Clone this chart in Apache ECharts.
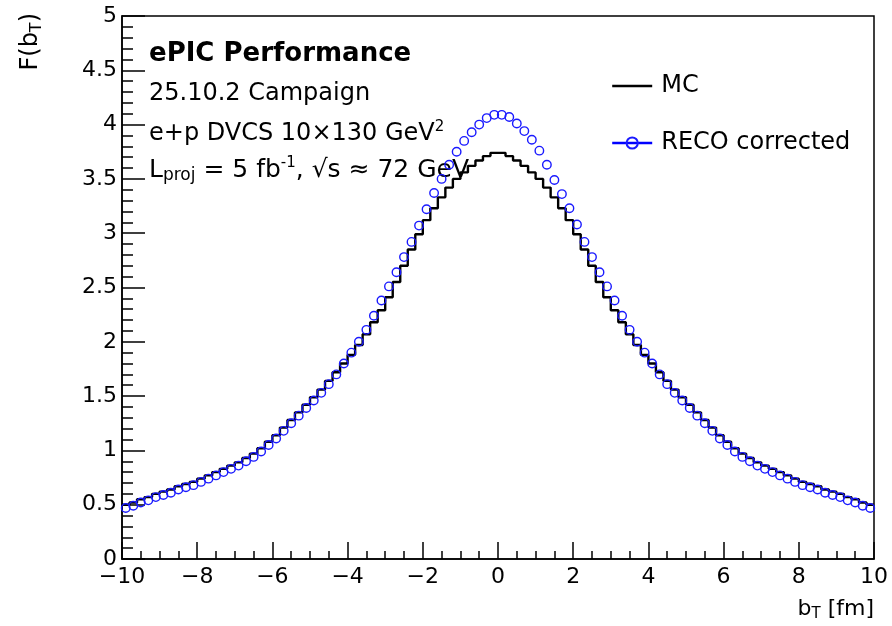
<!DOCTYPE html>
<html><head><meta charset="utf-8">
<script src="https://cdn.jsdelivr.net/npm/echarts@6/dist/echarts.min.js"></script>
<style>html,body{margin:0;padding:0;background:#fff}#c{width:892px;height:626px}</style>
</head><body><div id="c"></div>
<script>
// bin centres of b_T [fm]
const bT = [
 -9.9,-9.7,-9.5,-9.3,-9.1,-8.9,-8.7,-8.5,-8.3,-8.1,
 -7.9,-7.7,-7.5,-7.3,-7.1,-6.9,-6.7,-6.5,-6.3,-6.1,
 -5.9,-5.7,-5.5,-5.3,-5.1,-4.9,-4.7,-4.5,-4.3,-4.1,
 -3.9,-3.7,-3.5,-3.3,-3.1,-2.9,-2.7,-2.5,-2.3,-2.1,
 -1.9,-1.7,-1.5,-1.3,-1.1,-0.9,-0.7,-0.5,-0.3,-0.1,
 0.1,0.3,0.5,0.7,0.9,1.1,1.3,1.5,1.7,1.9,
 2.1,2.3,2.5,2.7,2.9,3.1,3.3,3.5,3.7,3.9,
 4.1,4.3,4.5,4.7,4.9,5.1,5.3,5.5,5.7,5.9,
 6.1,6.3,6.5,6.7,6.9,7.1,7.3,7.5,7.7,7.9,
 8.1,8.3,8.5,8.7,8.9,9.1,9.3,9.5,9.7,9.9
];
// MC histogram
const mcValues = [
 0.50,0.52,0.55,0.57,0.60,0.62,0.64,0.67,0.69,0.71,
 0.74,0.77,0.80,0.83,0.86,0.89,0.93,0.97,1.02,1.08,
 1.14,1.21,1.28,1.35,1.42,1.49,1.56,1.64,1.72,1.80,
 1.88,1.97,2.07,2.18,2.29,2.41,2.55,2.70,2.85,2.99,
 3.12,3.23,3.33,3.42,3.50,3.56,3.62,3.67,3.71,3.74,
 3.74,3.71,3.67,3.62,3.56,3.50,3.42,3.33,3.23,3.12,
 2.99,2.85,2.70,2.55,2.41,2.29,2.18,2.07,1.97,1.88,
 1.80,1.72,1.64,1.56,1.49,1.42,1.35,1.28,1.21,1.14,
 1.08,1.02,0.97,0.93,0.89,0.86,0.83,0.80,0.77,0.74,
 0.71,0.69,0.67,0.64,0.62,0.60,0.57,0.55,0.52,0.50
];
// RECO corrected
const recoValues = [
 0.47,0.49,0.52,0.54,0.57,0.59,0.61,0.64,0.66,0.68,
 0.71,0.74,0.77,0.80,0.83,0.86,0.90,0.94,0.99,1.05,
 1.11,1.18,1.25,1.32,1.39,1.46,1.53,1.61,1.70,1.80,
 1.90,2.00,2.11,2.24,2.38,2.51,2.64,2.78,2.92,3.07,
 3.22,3.37,3.50,3.63,3.75,3.85,3.93,4.00,4.06,4.09,
 4.09,4.07,4.01,3.94,3.86,3.76,3.63,3.49,3.36,3.23,
 3.08,2.92,2.78,2.64,2.51,2.38,2.24,2.11,2.00,1.90,
 1.80,1.70,1.61,1.53,1.46,1.39,1.32,1.25,1.18,1.11,
 1.05,0.99,0.94,0.90,0.86,0.83,0.80,0.77,0.74,0.71,
 0.68,0.66,0.64,0.61,0.59,0.57,0.54,0.52,0.49,0.47
];
const seriesNames = ['MC', 'RECO corrected'];

const FONT = 'DejaVu Sans';
const half = (bT[1] - bT[0]) / 2;
const mcStep = bT.map((x, i) => [+(x - half).toFixed(4), mcValues[i]]);
mcStep.push([+(bT[bT.length - 1] + half).toFixed(4), mcValues[mcValues.length - 1]]);
const recoData = bT.map((x, i) => [x, recoValues[i]]);

const chart = echarts.init(document.getElementById('c'), null, {renderer: 'canvas'});
const tickStyle = {color: '#000', width: 1.5};
const option = {
  animation: false,
  backgroundColor: '#fff',
  grid: {left: 122, right: 18, top: 16, bottom: 67, show: true, borderColor: '#000', borderWidth: 1.5, backgroundColor: 'transparent'},
  xAxis: {
    type: 'value', min: -10, max: 10, interval: 2,
    axisLine: {onZero: false, lineStyle: tickStyle},
    axisTick: {inside: true, length: 17, lineStyle: tickStyle},
    minorTick: {show: true, splitNumber: 4, length: 8, lineStyle: tickStyle},
    splitLine: {show: false},
    axisLabel: {color: '#000', fontFamily: FONT, fontSize: 22, margin: 7,
      formatter: v => String(v).replace('-', '\u2212')}
  },
  yAxis: {
    type: 'value', min: 0, max: 5, interval: 0.5,
    axisLine: {show: true, onZero: false, lineStyle: tickStyle},
    axisTick: {show: true, inside: true, length: 23, lineStyle: tickStyle},
    minorTick: {show: true, splitNumber: 5, length: 11, lineStyle: tickStyle},
    splitLine: {show: false},
    axisLabel: {color: '#000', fontFamily: FONT, fontSize: 22, margin: 5}
  },
  legend: {
    orient: 'vertical', left: 611, top: 74, padding: 0, itemWidth: 40, itemHeight: 14, itemGap: 33,
    textStyle: {fontFamily: FONT, fontSize: 24, color: '#000', padding: [0, 0, 0, 4]},
    lineStyle: {opacity: 1, width: 2.4},
    data: [
      {name: seriesNames[0], icon: 'path://M0,0L40,0L40,2.4L0,2.4Z', itemStyle: {color: '#000'}},
      {name: seriesNames[1]}
    ]
  },
  series: [
    {name: seriesNames[0], type: 'line', step: 'end', data: mcStep, symbol: 'none',
     lineStyle: {color: '#000', width: 2.4}, itemStyle: {color: '#000'}, z: 2, silent: true},
    {name: seriesNames[1], type: 'line', data: recoData, symbol: 'circle', symbolSize: 8.5,
     showSymbol: true, showAllSymbol: true,
     lineStyle: {width: 0, opacity: 0, color: '#0000ff'},
     itemStyle: {color: 'rgba(0,0,0,0)', borderColor: '#1a1aff', borderWidth: 1.4}, z: 3, silent: true}
  ],
  graphic: [
    {type: 'text', x: 149, y: 54, style: {text: 'ePIC Performance', font: 'bold 26px "DejaVu Sans"', fill: '#000', textVerticalAlign: 'middle', verticalAlign: 'middle'}},
    {type: 'text', x: 149, y: 94, style: {text: '25.10.2 Campaign', font: '24px "DejaVu Sans"', fill: '#000', textVerticalAlign: 'middle', verticalAlign: 'middle'}},
    {type: 'text', x: 149, y: 134, style: {
      text: '{n|e+p DVCS 10\u00d7130 GeV}{sup|2}', fill: '#000', textVerticalAlign: 'middle', verticalAlign: 'middle',
      rich: {n: {fontFamily: FONT, fontSize: 24, lineHeight: 28, fill: '#000'},
             sup: {fontFamily: FONT, fontSize: 15, lineHeight: 15, verticalAlign: 'top', fill: '#000'}}}},
    {type: 'text', x: 149, y: 170, style: {
      text: '{n|L}{sub|proj}{n| = 5 fb}{sup|-1}{n|, \u221as \u2248 72 GeV}', fill: '#000', textVerticalAlign: 'middle', verticalAlign: 'middle',
      rich: {n: {fontFamily: FONT, fontSize: 25, lineHeight: 28, fill: '#000'},
             sub: {fontFamily: FONT, fontSize: 17, lineHeight: 16, verticalAlign: 'bottom', fill: '#000'},
             sup: {fontFamily: FONT, fontSize: 15, lineHeight: 15, verticalAlign: 'top', fill: '#000'}}}},
    {type: 'text', x: 31, y: 13, rotation: Math.PI / 2, style: {
      text: '{n|F(b}{sub|T}{n|)}', fill: '#000', textAlign: 'right', align: 'right', textVerticalAlign: 'middle', verticalAlign: 'middle',
      rich: {n: {fontFamily: FONT, fontSize: 24, lineHeight: 28, fill: '#000'},
             sub: {fontFamily: FONT, fontSize: 16, lineHeight: 16, verticalAlign: 'bottom', fill: '#000'}}}},
    {type: 'text', x: 874, y: 609, style: {
      text: '{n|b}{sub|T}{n| [fm]}', fill: '#000', textAlign: 'right', align: 'right', textVerticalAlign: 'middle', verticalAlign: 'middle',
      rich: {n: {fontFamily: FONT, fontSize: 22, lineHeight: 26, fill: '#000'},
             sub: {fontFamily: FONT, fontSize: 15, lineHeight: 15, verticalAlign: 'bottom', fill: '#000'}}}}
  ]
};
chart.setOption(option);
</script>
</body></html>
